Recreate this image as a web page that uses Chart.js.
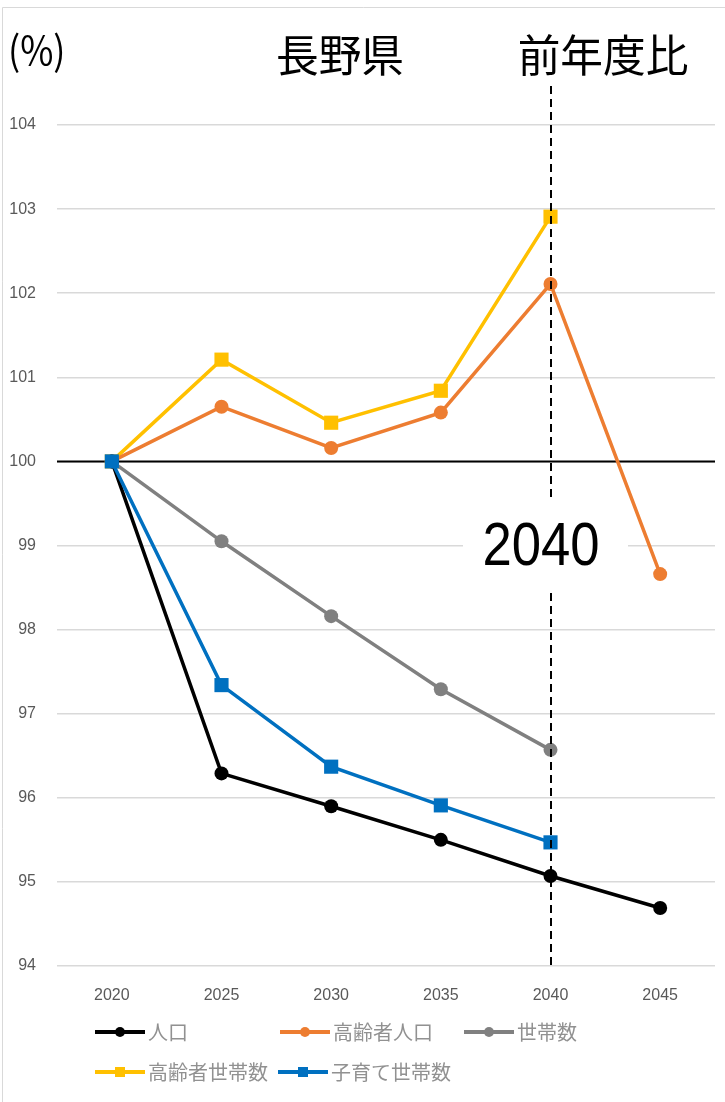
<!DOCTYPE html>
<html>
<head>
<meta charset="utf-8">
<title>長野県 前年度比</title>
<script src="https://cdn.jsdelivr.net/npm/chart.js@4.4.0/dist/chart.umd.min.js"></script>
<style>
  body { margin: 0; background: #fff; }
  #wrap { width: 725px; height: 1102px; position: relative; }
</style>
</head>
<body>
<div id="wrap"><canvas id="myChart" width="725" height="1102"></canvas></div>
<script>
// 年
const years = ['2020', '2025', '2030', '2035', '2040', '2045'];
// 各系列 (2020年 = 100)
const population = [100, 96.29, 95.90, 95.50, 95.07, 94.69];
const elderly = [100, 100.65, 100.16, 100.58, 102.11, 98.66];
const households = [100, 99.05, 98.16, 97.29, 96.57, null];
const elderlyHouseholds = [100, 101.21, 100.46, 100.84, 102.91, null];
const childHouseholds = [100, 97.34, 96.37, 95.91, 95.47, null];
const yTicks = [94, 95, 96, 97, 98, 99, 100, 101, 102, 103, 104];

const jpFont = '"Noto Sans CJK JP", "Noto Sans", sans-serif';
const numFont = '"Liberation Sans", Arial, sans-serif';

function series(label, data, color, pointStyle, order) {
    return {
        label: label,
        data: data,
        borderColor: color,
        backgroundColor: color,
        borderWidth: 3.5,
        pointStyle: pointStyle,
        pointRadius: pointStyle === 'rect' ? 10 : 7,
        pointHoverRadius: pointStyle === 'rect' ? 10 : 7,
        pointBorderWidth: 0,
        tension: 0,
        spanGaps: false,
        order: order
    };
}

// 狭い文字 (横方向に縮めて描く)
function narrowText(ctx, text, x, y, sx) {
    ctx.save();
    ctx.translate(x, y);
    ctx.scale(sx, 1);
    ctx.fillText(text, 0, 0);
    ctx.restore();
}

// 100% 線, 2040年の破線, タイトル, 凡例
const extras = {
    id: 'extras',
    beforeDatasetsDraw(chart) {
        const { ctx, chartArea, scales } = chart;
        const y = Math.round(scales.y.getPixelForValue(100)) + 0.5;
        ctx.save();
        ctx.strokeStyle = '#000';
        ctx.lineWidth = 2;
        ctx.beginPath();
        ctx.moveTo(chartArea.left, y);
        ctx.lineTo(chartArea.right, y);
        ctx.stroke();
        ctx.restore();
    },
    afterDatasetsDraw(chart) {
        const { ctx, chartArea, scales } = chart;
        const x = Math.round(scales.x.getPixelForValue(4));
        ctx.save();
        // 破線
        ctx.strokeStyle = '#000';
        ctx.lineWidth = 2;
        ctx.setLineDash([8, 5]);
        ctx.beginPath();
        ctx.moveTo(x, 86);
        ctx.lineTo(x, chartArea.bottom);
        ctx.stroke();
        ctx.setLineDash([]);
        // 2040 ラベル
        ctx.fillStyle = '#fff';
        ctx.fillRect(463, 499, 165, 90);
        ctx.fillStyle = '#000';
        ctx.font = '62px ' + numFont;
        ctx.textAlign = 'center';
        ctx.textBaseline = 'middle';
        narrowText(ctx, '2040', 541, 548, 0.85);
        // タイトル
        ctx.font = '44px ' + jpFont;
        narrowText(ctx, '長野県', 340, 55, 0.97);
        narrowText(ctx, '前年度比', 603, 55, 0.97);
        ctx.textAlign = 'left';
        ctx.font = '40px ' + jpFont;
        narrowText(ctx, '(%)', 8, 50, 0.9);
        // 枠
        ctx.strokeStyle = '#d9d9d9';
        ctx.lineWidth = 1;
        ctx.beginPath();
        ctx.moveTo(2.5, 1102);
        ctx.lineTo(2.5, 7.5);
        ctx.lineTo(725, 7.5);
        ctx.stroke();
        // 凡例
        const pos = [[95, 1032], [280, 1032], [464, 1032], [95, 1072], [278, 1072]];
        ctx.font = '20px ' + jpFont;
        ctx.textBaseline = 'middle';
        chart.data.datasets.forEach((ds, i) => {
            const [lx, ly] = pos[i];
            ctx.strokeStyle = ds.borderColor;
            ctx.fillStyle = ds.borderColor;
            ctx.lineWidth = 4;
            ctx.beginPath();
            ctx.moveTo(lx, ly);
            ctx.lineTo(lx + 50, ly);
            ctx.stroke();
            if (ds.pointStyle === 'rect') {
                ctx.fillRect(lx + 20, ly - 5, 10, 10);
            } else {
                ctx.beginPath();
                ctx.arc(lx + 25, ly, 5, 0, Math.PI * 2);
                ctx.fill();
            }
            ctx.fillStyle = '#919191';
            ctx.fillText(ds.label, lx + 53, ly);
        });
        ctx.restore();
    }
};

const ctx = document.getElementById('myChart').getContext('2d');
const myChart = new Chart(ctx, {
    type: 'line',
    data: {
        labels: years,
        datasets: [
            series('人口', population, '#000000', 'circle', 1),
            series('高齢者人口', elderly, '#ed7d31', 'circle', 3),
            series('世帯数', households, '#808080', 'circle', 2),
            series('高齢者世帯数', elderlyHouseholds, '#ffc000', 'rect', 4),
            series('子育て世帯数', childHouseholds, '#0070c0', 'rect', 0)
        ]
    },
    options: {
        responsive: false,
        animation: false,
        layout: { padding: { top: 125, right: 6, bottom: 90, left: 0 } },
        plugins: {
            legend: { display: false },
            tooltip: { enabled: false }
        },
        scales: {
            x: {
                offset: true,
                grid: { display: false, drawTicks: false },
                border: { display: false },
                ticks: {
                    padding: 20,
                    color: '#595959',
                    font: { family: numFont, size: 16 },
                    maxRotation: 0
                },
                afterFit(scale) { scale.height = 46; }
            },
            y: {
                min: 94,
                max: 104,
                afterBuildTicks(scale) { scale.ticks = yTicks.map(v => ({ value: v })); },
                grid: { color: '#d9d9d9', lineWidth: 1.5, drawTicks: false },
                border: { display: false },
                ticks: {
                    padding: 21,
                    color: '#595959',
                    font: { family: numFont, size: 16 }
                },
                afterFit(scale) { scale.width = 57; }
            }
        }
    },
    plugins: [extras]
});
</script>
</body>
</html>
